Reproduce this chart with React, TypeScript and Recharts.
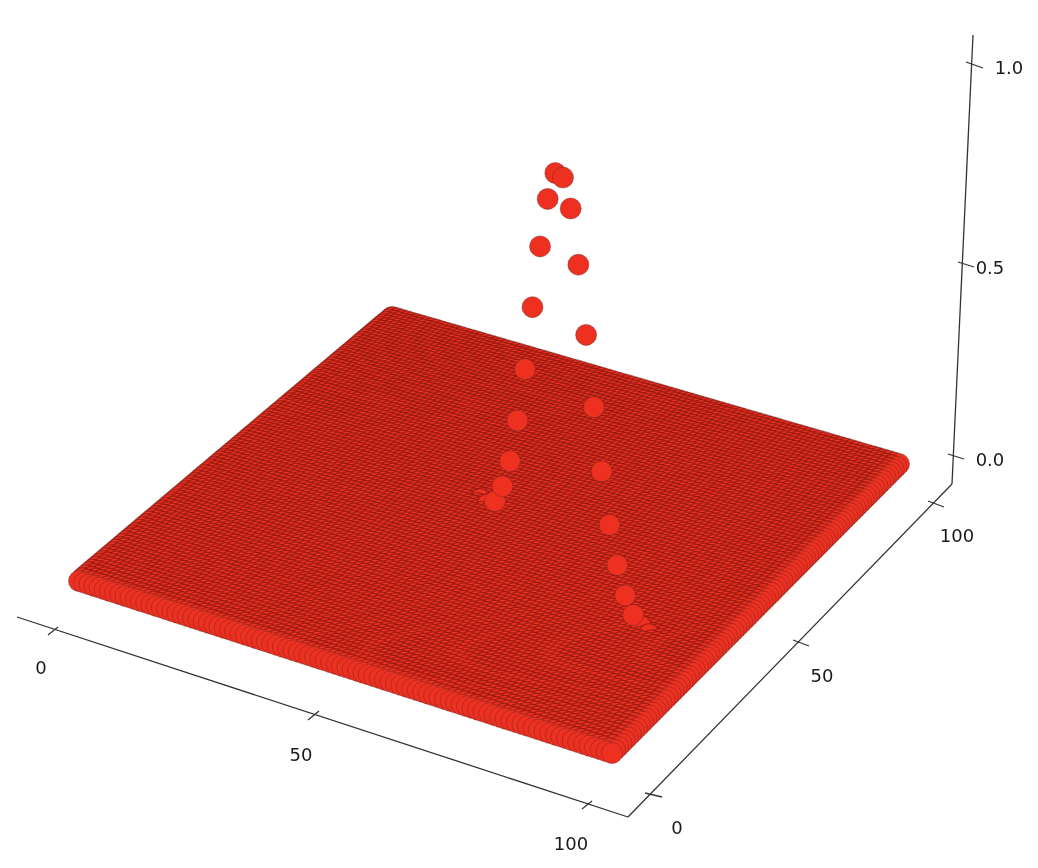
import { ScatterChart, Scatter, XAxis, YAxis, ReferenceLine, ReferenceDot } from "recharts"

// surface grid (data units on both ground axes)
const gridValues = [
  0, 1, 2, 3, 4, 5, 6, 7, 8, 9, 10, 11, 12, 13, 14, 15, 16, 17, 18, 19, 20, 21, 22, 23, 24, 25, 26, 27, 28, 29,
  30, 31, 32, 33, 34, 35, 36, 37, 38, 39, 40, 41, 42, 43, 44, 45, 46, 47, 48, 49, 50, 51, 52, 53, 54, 55, 56, 57,
  58, 59, 60, 61, 62, 63, 64, 65, 66, 67, 68, 69, 70, 71, 72, 73, 74, 75, 76, 77, 78, 79, 80, 81, 82, 83, 84, 85,
  86, 87, 88, 89, 90, 91, 92, 93, 94, 95, 96, 97, 98, 99,
]

// the raised ridge of points
const ridgeX = [44, 46, 48, 50, 52, 54, 56, 58, 60, 62, 64, 66, 68, 70, 72, 74, 76, 78, 80, 82, 84, 86, 88]
const ridgeY = [54, 53, 52, 51, 50, 49, 48, 47, 46, 45, 44, 43, 42, 41, 40, 39, 38, 37, 36, 35, 34, 33, 32]
const ridgeZ = [0.003, 0.005, 0.028, 0.08, 0.158, 0.274, 0.418, 0.588, 0.755, 0.889, 0.969, 0.973, 0.911, 0.786, 0.626, 0.461, 0.316, 0.198, 0.113, 0.053, 0.02, 0.008, 0.004]

const WIDTH = 1038
const HEIGHT = 868
const Z_PIXELS = 400

// ground plane homography, fitted to the four corners of the surface
function project(x: number, y: number, z: number) {
  const u = x / 99
  const v = y / 99
  const w = -0.0469 * u + 0.0778 * v + 1
  const px = (504.3 * u + 343.5 * v + 79) / w
  const groundY = (136.7 * u - 239.3 * v + 581) / w
  const lift = z * Z_PIXELS
  // front rim and lifted points read brighter than the packed interior
  const soft = z > 0.015 || x === 99 || y === 0
  return { px, py: groundY - lift, depth: groundY + 2 * lift, soft }
}

const surface = gridValues.flatMap((x) => gridValues.map((y) => project(x, y, 0)))
const ridge = ridgeX.map((x, i) => project(x, ridgeY[i], ridgeZ[i]))
const points = [...surface, ...ridge].sort((a, b) => a.depth - b.depth)

// 3d box frame and ticks, in picture units
const frameLines = [
  [17, 617, 628, 817],
  [628, 817, 952, 484],
  [952, 484, 973, 35],
]
const tickLines = [
  [48, 635, 58, 627],
  [308, 720, 319, 711],
  [582, 809, 592, 801],
  [645, 793, 662, 797],
  [793, 640, 809, 646],
  [928, 501, 944, 507],
  [948, 454, 964, 459],
  [958, 262, 974, 267],
  [966, 62, 983, 68],
]
const tickLabels: [string, number, number][] = [
  ["0", 41, 668],
  ["50", 301, 755],
  ["100", 571, 844],
  ["0", 677, 828],
  ["50", 822, 676],
  ["100", 957, 536],
  ["0.0", 990, 460],
  ["0.5", 990, 268],
  ["1.0", 1009, 68],
]

function Dot(props: any) {
  const soft = props.payload?.soft
  return (
    <circle
      cx={props.cx}
      cy={props.cy}
      r={10.5}
      fill="#ee3020"
      stroke={soft ? "rgba(110,40,35,0.45)" : "rgba(90,15,10,0.45)"}
      strokeWidth={soft ? 1 : 1.2}
    />
  )
}

export default function App() {
  return (
    <div style={{ position: "absolute", left: 0, top: 0, width: WIDTH, height: HEIGHT, background: "#fff", filter: "blur(0.7px)" }}>
      <ScatterChart width={WIDTH} height={HEIGHT} margin={{ top: 0, right: 0, bottom: 0, left: 0 }}>
        <XAxis type="number" dataKey="px" domain={[0, WIDTH]} hide />
        <YAxis type="number" dataKey="py" domain={[0, HEIGHT]} reversed hide />
        {[...frameLines, ...tickLines].map(([x1, y1, x2, y2], i) => (
          <ReferenceLine
            key={i}
            segment={[{ x: x1, y: y1 }, { x: x2, y: y2 }]}
            stroke="#333333"
            strokeWidth={1.3}
            ifOverflow="visible"
          />
        ))}
        <Scatter data={points} shape={Dot} isAnimationActive={false} />
        {tickLabels.map(([text, x, y], i) => (
          <ReferenceDot
            key={i}
            x={x}
            y={y}
            r={0}
            stroke="none"
            ifOverflow="visible"
            label={{ value: text, position: "center", fontSize: 18, fill: "#1a1a1a", fontFamily: "DejaVu Sans" }}
          />
        ))}
      </ScatterChart>
    </div>
  )
}
